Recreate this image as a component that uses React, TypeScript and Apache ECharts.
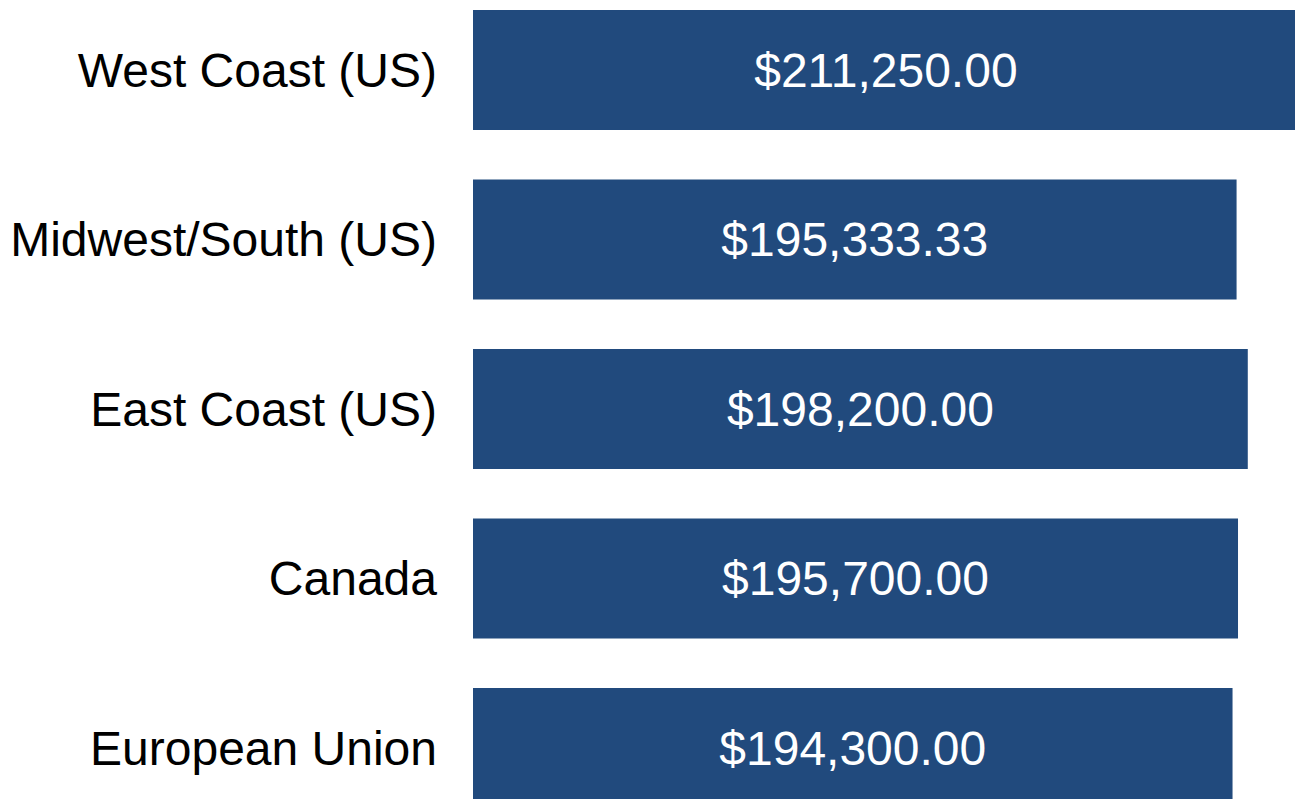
import React, { useEffect, useRef } from "react";
import * as echarts from "echarts";

const categories = ["West Coast (US)", "Midwest/South (US)", "East Coast (US)", "Canada", "European Union"];
const values = [211250.0, 195333.33, 198200.0, 195700.0, 194300.0];

const fmt = (v: number) =>
  "$" + v.toLocaleString("en-US", { minimumFractionDigits: 2, maximumFractionDigits: 2 });

export default function App() {
  const ref = useRef<HTMLDivElement>(null);
  useEffect(() => {
    if (!ref.current) return;
    const chart = echarts.init(ref.current, undefined, { renderer: "svg" });
    chart.setOption({
      animation: false,
      backgroundColor: "#ffffff",
      grid: {
        left: 473,
        top: -14.75,
        width: 860,
        height: 847.5,
        containLabel: false,
        outerBoundsMode: "none",
      },
      xAxis: {
        type: "value",
        min: 0,
        max: 220000,
        show: false,
        splitLine: { show: false },
      },
      yAxis: {
        type: "category",
        inverse: true,
        data: categories,
        axisLine: { show: false },
        axisTick: { show: false },
        splitLine: { show: false },
        axisLabel: {
          color: "#000000",
          fontSize: 48,
          fontFamily: "Liberation Sans, Arial, sans-serif",
          margin: 36,
        },
      },
      series: [
        {
          type: "bar",
          data: values,
          barWidth: 120,
          clip: false,
          itemStyle: { color: "#214A7D" },
          label: {
            show: true,
            position: "inside",
            color: "#ffffff",
            fontSize: 48,
            fontFamily: "Liberation Sans, Arial, sans-serif",
            formatter: (p: any) => fmt(p.value),
          },
        },
      ],
    });
    return () => chart.dispose();
  }, []);
  return (
    <div
      ref={ref}
      style={{ position: "absolute", left: 0, top: 0, width: 1295, height: 799, overflow: "hidden" }}
    />
  );
}
